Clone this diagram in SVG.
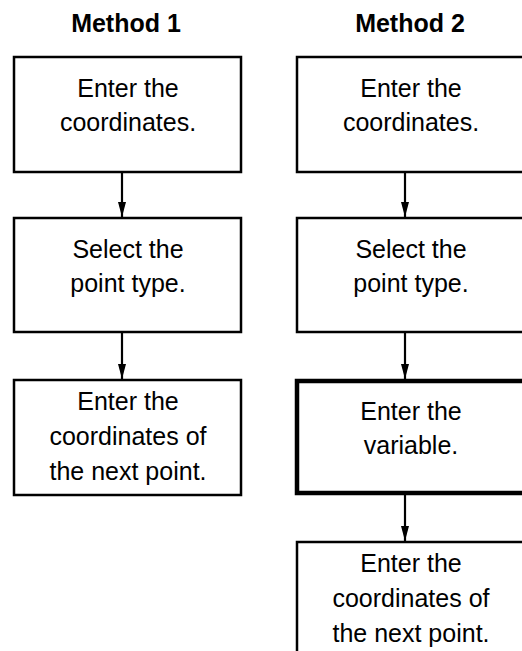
<svg xmlns="http://www.w3.org/2000/svg" width="522" height="651" viewBox="0 0 522 651">
<style>
.box{fill:#fff;stroke:#000;stroke-width:2.5}
.thick{stroke-width:4.5}
.t{font-family:"Liberation Sans",Arial,sans-serif;font-size:25px;fill:#000;text-anchor:middle}
.h{font-weight:bold}
.c{stroke:#000;stroke-width:2.2;fill:none}
</style>
<defs>
<marker id="ah" markerWidth="15" markerHeight="8" refX="15" refY="4" orient="auto" markerUnits="userSpaceOnUse" viewBox="0 0 15 8">
<path d="M0,0 L15,4 L0,8 Z" fill="#000"/>
</marker>
</defs>
<rect width="522" height="651" fill="#fff"/>
<text class="t h" x="126" y="32">Method 1</text>
<text class="t h" x="410" y="32">Method 2</text>
<g id="connectors">
<line class="c" x1="122" y1="173" x2="122" y2="217" marker-end="url(#ah)"/>
<line class="c" x1="122" y1="333" x2="122" y2="379" marker-end="url(#ah)"/>
<line class="c" x1="405" y1="173" x2="405" y2="217" marker-end="url(#ah)"/>
<line class="c" x1="405" y1="333" x2="405" y2="379" marker-end="url(#ah)"/>
<line class="c" x1="405" y1="495" x2="405" y2="541" marker-end="url(#ah)"/>
</g>
<g id="m1-enter">
<rect class="box" x="14" y="57" width="227" height="115"/>
<text class="t" x="128" y="97">Enter the</text>
<text class="t" x="128" y="131">coordinates.</text>
</g>
<g id="m1-select">
<rect class="box" x="14" y="218" width="227" height="114"/>
<text class="t" x="128" y="258">Select the</text>
<text class="t" x="128" y="292">point type.</text>
</g>
<g id="m1-next">
<rect class="box" x="14" y="380" width="227" height="115"/>
<text class="t" x="128" y="410">Enter the</text>
<text class="t" x="128" y="445">coordinates of</text>
<text class="t" x="128" y="480">the next point.</text>
</g>
<g id="m2-enter">
<rect class="box" x="297" y="57" width="228" height="115"/>
<text class="t" x="411" y="97">Enter the</text>
<text class="t" x="411" y="131">coordinates.</text>
</g>
<g id="m2-select">
<rect class="box" x="297" y="218" width="228" height="114"/>
<text class="t" x="411" y="258">Select the</text>
<text class="t" x="411" y="292">point type.</text>
</g>
<g id="m2-variable">
<rect class="box thick" x="297" y="381" width="228" height="112"/>
<text class="t" x="411" y="420">Enter the</text>
<text class="t" x="411" y="454">variable.</text>
</g>
<g id="m2-next">
<rect class="box" x="297" y="542" width="228" height="120"/>
<text class="t" x="411" y="572">Enter the</text>
<text class="t" x="411" y="607">coordinates of</text>
<text class="t" x="411" y="642">the next point.</text>
</g>
</svg>
